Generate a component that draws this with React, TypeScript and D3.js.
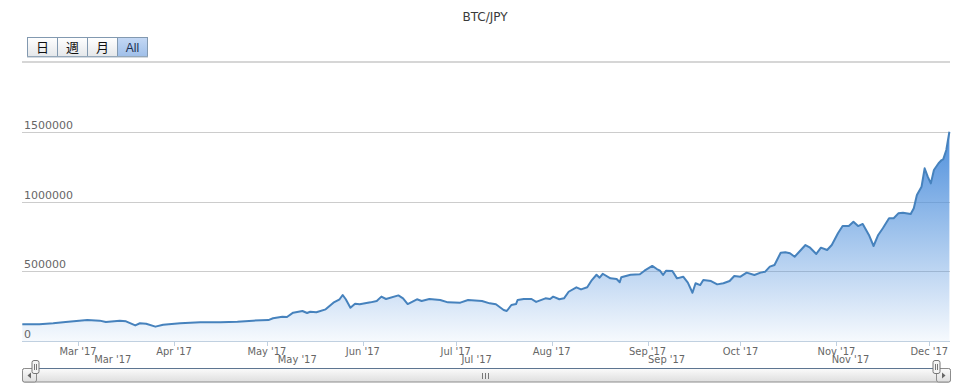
import React from 'react';
import * as d3 from 'd3';

const title = 'BTC/JPY';
const rangeButtons = ['日', '週', '月', 'All'];
const selectedButton = 'All';
const yTicks = [0, 500000, 1000000, 1500000];
const yMax = 2000000;

// price samples ("YYYY-MM-DD HH")
const times = [
  '2017-02-11 00', '2017-02-16 12', '2017-02-21 00', '2017-02-25 00', '2017-03-04 00',
  '2017-03-08 00', '2017-03-10 00', '2017-03-14 12', '2017-03-16 12', '2017-03-19 12',
  '2017-03-21 00', '2017-03-23 00', '2017-03-26 00', '2017-03-28 12', '2017-04-03 00',
  '2017-04-09 12', '2017-04-16 00', '2017-04-21 12', '2017-04-26 12', '2017-05-01 12',
  '2017-05-03 00', '2017-05-06 00', '2017-05-07 12', '2017-05-09 12', '2017-05-12 12',
  '2017-05-14 00', '2017-05-15 00', '2017-05-17 00', '2017-05-20 00', '2017-05-22 12',
  '2017-05-24 12', '2017-05-25 12', '2017-05-26 12', '2017-05-28 00', '2017-05-29 12',
  '2017-05-31 00', '2017-06-03 12', '2017-06-05 12', '2017-06-07 00', '2017-06-08 12',
  '2017-06-12 12', '2017-06-14 00', '2017-06-15 12', '2017-06-18 12', '2017-06-20 00',
  '2017-06-22 12', '2017-06-26 00', '2017-06-28 12', '2017-07-02 12', '2017-07-05 00',
  '2017-07-09 12', '2017-07-12 00', '2017-07-14 00', '2017-07-16 12', '2017-07-17 12',
  '2017-07-19 00', '2017-07-20 12', '2017-07-21 00', '2017-07-23 00', '2017-07-25 12',
  '2017-07-27 00', '2017-07-30 00', '2017-07-31 12', '2017-08-01 12', '2017-08-03 12',
  '2017-08-05 00', '2017-08-06 12', '2017-08-09 00', '2017-08-10 12', '2017-08-12 12',
  '2017-08-14 00', '2017-08-15 12', '2017-08-16 12', '2017-08-17 12', '2017-08-20 00',
  '2017-08-22 00', '2017-08-23 00', '2017-08-23 12', '2017-08-26 12', '2017-08-29 12',
  '2017-08-31 00', '2017-09-02 12', '2017-09-04 00', '2017-09-05 00', '2017-09-06 00',
  '2017-09-07 00', '2017-09-09 00', '2017-09-10 12', '2017-09-12 12', '2017-09-14 00',
  '2017-09-15 12', '2017-09-16 12', '2017-09-18 00', '2017-09-19 00', '2017-09-21 12',
  '2017-09-23 12', '2017-09-25 12', '2017-09-27 12', '2017-09-29 00', '2017-10-01 00',
  '2017-10-03 00', '2017-10-05 12', '2017-10-07 12', '2017-10-09 00', '2017-10-10 12',
  '2017-10-12 00', '2017-10-14 00', '2017-10-15 12', '2017-10-17 00', '2017-10-18 12',
  '2017-10-20 00', '2017-10-22 00', '2017-10-23 12', '2017-10-25 12', '2017-10-27 00',
  '2017-10-29 00', '2017-10-30 12', '2017-11-01 12', '2017-11-03 00', '2017-11-05 00',
  '2017-11-06 12', '2017-11-08 00', '2017-11-09 12', '2017-11-11 12', '2017-11-13 00',
  '2017-11-14 12', '2017-11-16 00', '2017-11-18 00', '2017-11-19 12', '2017-11-21 00',
  '2017-11-22 12', '2017-11-25 00', '2017-11-26 00', '2017-11-27 00', '2017-11-28 12',
  '2017-11-29 12', '2017-11-30 12', '2017-12-01 12', '2017-12-02 12', '2017-12-04 00',
  '2017-12-05 00', '2017-12-05 12', '2017-12-06 12', '2017-12-07 12',
];

const prices = [
  120000, 120000, 127000, 136000, 150000,
  146000, 136000, 146000, 141000, 112000,
  127000, 124000, 103000, 117000, 127000,
  134000, 134000, 138000, 146000, 150000,
  163000, 174000, 172000, 203000, 215000,
  201000, 210000, 206000, 227000, 275000,
  299000, 330000, 299000, 239000, 267000,
  263000, 277000, 287000, 318000, 301000,
  327000, 306000, 265000, 299000, 287000,
  301000, 294000, 277000, 275000, 294000,
  287000, 270000, 263000, 222000, 215000,
  258000, 265000, 294000, 301000, 301000,
  280000, 306000, 301000, 318000, 299000,
  306000, 353000, 385000, 370000, 385000,
  437000, 475000, 454000, 482000, 449000,
  444000, 421000, 457000, 475000, 478000,
  504000, 538000, 516000, 504000, 473000,
  504000, 502000, 449000, 461000, 418000,
  346000, 414000, 401000, 437000, 430000,
  406000, 414000, 430000, 466000, 461000,
  490000, 473000, 490000, 497000, 533000,
  545000, 633000, 636000, 629000, 604000,
  640000, 688000, 669000, 624000, 669000,
  652000, 688000, 772000, 824000, 824000,
  855000, 824000, 839000, 760000, 681000,
  760000, 808000, 880000, 880000, 915000,
  920000, 910000, 951000, 1047000, 1106000,
  1238000, 1178000, 1130000, 1226000, 1274000,
  1297000, 1302000, 1369000, 1500000,
];

const W = 965;
const H = 387;
const plotLeft = 22;
const plotRight = 950;
const plotTop = 62;
const plotBottom = 341;

const parse = d3.timeParse('%Y-%m-%d %H');
const points = times.map((t, i) => ({ date: parse(t) as Date, value: prices[i] }));
const extent = d3.extent(points, d => d.date) as [Date, Date];

const x = d3.scaleTime().domain(extent).range([22.3, 949.4]);
const navX = d3.scaleTime().domain(extent).range([37, 938.5]);
const y = d3.scaleLinear().domain([0, yMax]).range([plotBottom, plotTop]);

const fmt = d3.timeFormat("%b '%y");
const labelFont = '"DejaVu Sans", Verdana, sans-serif';
const axisColor = '#c0d0e0';

const App: React.FC = () => {
  const area = d3.area<{ date: Date; value: number }>()
    .x(d => x(d.date))
    .y0(plotBottom)
    .y1(d => y(d.value));
  const line = d3.line<{ date: Date; value: number }>()
    .x(d => x(d.date))
    .y(d => y(d.value));

  const monthTicks = x.ticks(d3.timeMonth.every(1) as d3.TimeInterval);
  const navTicks = navX.ticks(d3.timeMonth.every(2) as d3.TimeInterval);
  const topY = y(d3.max(prices) as number);

  const btnX = 27, btnY = 37, btnW = 30, btnH = 19;
  // navigator handle centres sit at the ends of the (collapsed) navigator
  const handles = [35, 936].map(c => c - 3.5);

  return (
    <svg width={W} height={H} style={{ position: 'absolute', left: 0, top: 0, background: '#fff' }}>
      <defs>
        <linearGradient id="areaFill" gradientUnits="userSpaceOnUse" x1={0} y1={topY} x2={0} y2={plotBottom}>
          <stop offset="0" stopColor="#4d8fdc" stopOpacity={1} />
          <stop offset="1" stopColor="#4d8fdc" stopOpacity={0.05} />
        </linearGradient>
        <linearGradient id="btnFill" x1="0" y1="0" x2="0" y2="1">
          <stop offset="0" stopColor="#ffffff" />
          <stop offset="1" stopColor="#e4e7ea" />
        </linearGradient>
        <linearGradient id="btnSel" x1="0" y1="0" x2="0" y2="1">
          <stop offset="0" stopColor="#c4d8f4" />
          <stop offset="1" stopColor="#9fbfe9" />
        </linearGradient>
        <linearGradient id="scrollFill" x1="0" y1="0" x2="0" y2="1">
          <stop offset="0" stopColor="#fbfbfb" />
          <stop offset="1" stopColor="#dedede" />
        </linearGradient>
      </defs>

      {/* title */}
      <text x={485} y={21} textAnchor="middle" fontFamily={labelFont} fontSize={12} fill="#3a3a3a">
        {title}
      </text>

      {/* range selector */}
      {rangeButtons.map((b, i) => (
        <g key={b}>
          <rect x={btnX + i * btnW + 0.5} y={btnY + 0.5} width={btnW} height={btnH}
            fill={b === selectedButton ? 'url(#btnSel)' : 'url(#btnFill)'} stroke="#8299b0" />
          <text x={btnX + i * btnW + btnW / 2 + 0.5} y={btnY + 14.5} textAnchor="middle"
            fontFamily={b === 'All' ? '"Liberation Sans", Arial, sans-serif' : '"Noto Sans CJK JP", sans-serif'}
            fontSize={b === 'All' ? 12 : 13} fill={b === 'All' ? '#1d2f50' : '#111'}>
            {b}
          </text>
        </g>
      ))}
      <line x1={btnX} x2={btnX + rangeButtons.length * btnW + 1} y1={btnY + btnH + 1} y2={btnY + btnH + 1}
        stroke="#a9b6c3" />

      {/* grid */}
      <line x1={plotLeft} x2={plotRight} y1={plotTop} y2={plotTop} stroke="#d6d6d6" strokeWidth={2} />
      {yTicks.filter(t => t > 0).map(t => (
        <line key={t} x1={plotLeft} x2={plotRight} y1={Math.round(y(t)) + 0.5} y2={Math.round(y(t)) + 0.5}
          stroke="#cccccc" />
      ))}

      {/* series */}
      <path d={area(points) as string} fill="url(#areaFill)" />
      <path d={line(points) as string} fill="none" stroke="#4682bd" strokeWidth={2} strokeLinejoin="round" />

      {/* y labels */}
      {yTicks.map(t => (
        <text key={t} x={24} y={y(t) - 3} fontFamily={labelFont} fontSize={11} fill="#666">
          {t}
        </text>
      ))}

      {/* x axis */}
      <line x1={plotLeft} x2={plotRight} y1={plotBottom + 0.5} y2={plotBottom + 0.5} stroke={axisColor} />
      {monthTicks.map(t => (
        <g key={t.getTime()}>
          <line x1={Math.round(x(t)) + 0.5} x2={Math.round(x(t)) + 0.5} y1={plotBottom} y2={plotBottom + 5}
            stroke={axisColor} />
          <text x={x(t)} y={355} textAnchor="middle"
            fontFamily={'"DejaVu Sans Condensed", ' + labelFont} fontSize={11} fill="#666">
            {fmt(t)}
          </text>
        </g>
      ))}

      {/* navigator axis labels */}
      {navTicks.map(t => (
        <text key={t.getTime()} x={navX(t) + 3} y={363}
          fontFamily={'"DejaVu Sans Condensed", ' + labelFont} fontSize={11} fill="#666">
          {fmt(t)}
        </text>
      ))}

      {/* scrollbar */}
      <rect x={plotLeft + 0.5} y={368.5} width={plotRight - plotLeft} height={13.5} rx={2}
        fill="url(#scrollFill)" stroke="#8c8c8c" />
      <line x1={36} x2={936} y1={368.5} y2={368.5} stroke="#5d7591" />
      <rect x={plotLeft + 0.5} y={368.5} width={14} height={13.5} rx={2} fill="url(#scrollFill)" stroke="#8c8c8c" />
      <rect x={plotRight - 14 + 0.5} y={368.5} width={14} height={13.5} rx={2} fill="url(#scrollFill)" stroke="#8c8c8c" />
      <path d="M31,372.5 L27.5,375.5 L31,378.5 Z" fill="#666" />
      <path d="M942,372.5 L945.5,375.5 L942,378.5 Z" fill="#666" />
      {[-3, 0, 3].map(o => (
        <line key={o} x1={485.5 + o} x2={485.5 + o} y1={373} y2={379} stroke="#777" />
      ))}

      {/* navigator handles */}
      {handles.map((hx, i) => (
        <g key={i}>
          <rect x={hx + 0.5} y={360.5} width={7} height={13} rx={2} fill="#f4f4f4" stroke="#777" />
          <line x1={hx + 3} x2={hx + 3} y1={364} y2={370} stroke="#777" />
          <line x1={hx + 5} x2={hx + 5} y1={364} y2={370} stroke="#777" />
        </g>
      ))}
    </svg>
  );
};

export default App;
